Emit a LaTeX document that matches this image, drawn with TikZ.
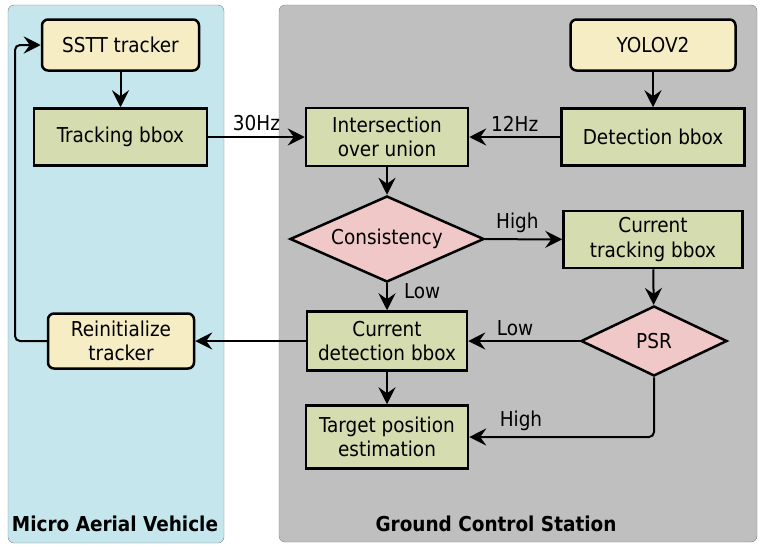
\documentclass[tikz,border=0pt]{standalone}
\usepackage{fontspec}
\setmainfont{DejaVu Sans Condensed}
\usepackage{tikz}
\usetikzlibrary{arrows.meta,shapes.geometric}
\definecolor{mavblue}{RGB}{196,230,236}
\definecolor{gcsgrey}{RGB}{191,191,191}
\definecolor{boxyellow}{RGB}{246,237,197}
\definecolor{boxgreen}{RGB}{213,220,176}
\definecolor{diapink}{RGB}{240,200,200}

\begin{document}
\begin{tikzpicture}[x=1pt,y=-1pt,font=\fontsize{20.5}{24.5}\selectfont,
   >={Stealth[length=17pt,width=17pt,inset=6pt]},
   box/.style={draw,line width=2.5pt,fill=boxgreen,align=center,inner sep=0pt,minimum height=57pt},
   rbox/.style={box,fill=boxyellow,rounded corners=6pt},
   dia/.style={diamond,draw,line width=2.5pt,fill=diapink,inner sep=0pt,aspect=2.2},
   flow/.style={->,line width=2pt},
   lab/.style={inner sep=2pt}]
   \useasboundingbox (0,0) rectangle (765,549);
   \draw[rounded corners=6pt,draw=gray,fill=mavblue] (8,5) rectangle (224,543);
   \draw[rounded corners=6pt,draw=gray,fill=gcsgrey] (279,5) rectangle (757,542);
   \draw (115,524) node (mav) {\bfseries Micro Aerial Vehicle};
   \draw (496,524) node (gcs) {\bfseries Ground Control Station};

   \draw (120.5,45) node[rbox,minimum width=157pt,minimum height=51pt] (sstt) {SSTT tracker};
   \draw (120.5,137) node[box,minimum width=173pt] (trackbox) {Tracking bbox};
      \draw (121,341) node[rbox,minimum width=146pt,minimum height=55pt] (reinit) {Reinitialize\\tracker};
   \draw (653,45) node[rbox,minimum width=165pt,minimum height=51pt] (yolo) {YOLOV2};
   \draw (653,137) node[box,minimum width=183pt] (detbox) {Detection bbox};
  \draw (387,137) node[box,minimum width=162pt,minimum height=58pt] (iou) {Intersection\\over union};
  \draw (387,239) node[dia,minimum width=194pt,minimum height=86pt] (cons) {Consistency};
      \draw (653,239.5) node[box,minimum width=179pt] (curtrack) {Current\\tracking bbox};
      \draw (654,341) node[dia,minimum width=146pt,minimum height=70pt] (psr) {PSR};
  \draw (387,341) node[box,minimum width=160pt,minimum height=59pt] (curdet) {Current\\detection bbox};
  \draw (387,437) node[box,minimum width=162pt,minimum height=63pt] (target) {Target position\\estimation};
   \coordinate (loop) at (15,45);

   \path[flow] (sstt) edge (trackbox);
   \path[flow] (yolo) edge (detbox);
   \path[flow] (trackbox) edge node[lab,above=3pt] {30Hz} (iou);
   \path[flow] (detbox) edge node[lab,above=3pt] {12Hz} (iou);
   \path[flow] (iou) edge (cons);
   \path[flow] (cons) edge node[lab,above=3pt,pos=0.42] {High} (curtrack);
   \path[flow] (cons) edge node[lab,right=14pt,pos=0.3] {Low} (curdet);
   \path[flow] (curtrack) edge (psr);
   \path[flow] (psr) edge node[lab,above=2pt,pos=0.58] {Low} (curdet);
   \path[flow] (curdet) edge (target);
   \path[flow] (curdet) edge (reinit);
   \draw[flow,rounded corners=5pt] (psr.south) |- node[lab,above=3pt,pos=0.86] {High} (target.east);
   \draw[flow,rounded corners=5pt] (reinit.west) -| (loop) -- (sstt.west);
\end{tikzpicture}
\end{document}
